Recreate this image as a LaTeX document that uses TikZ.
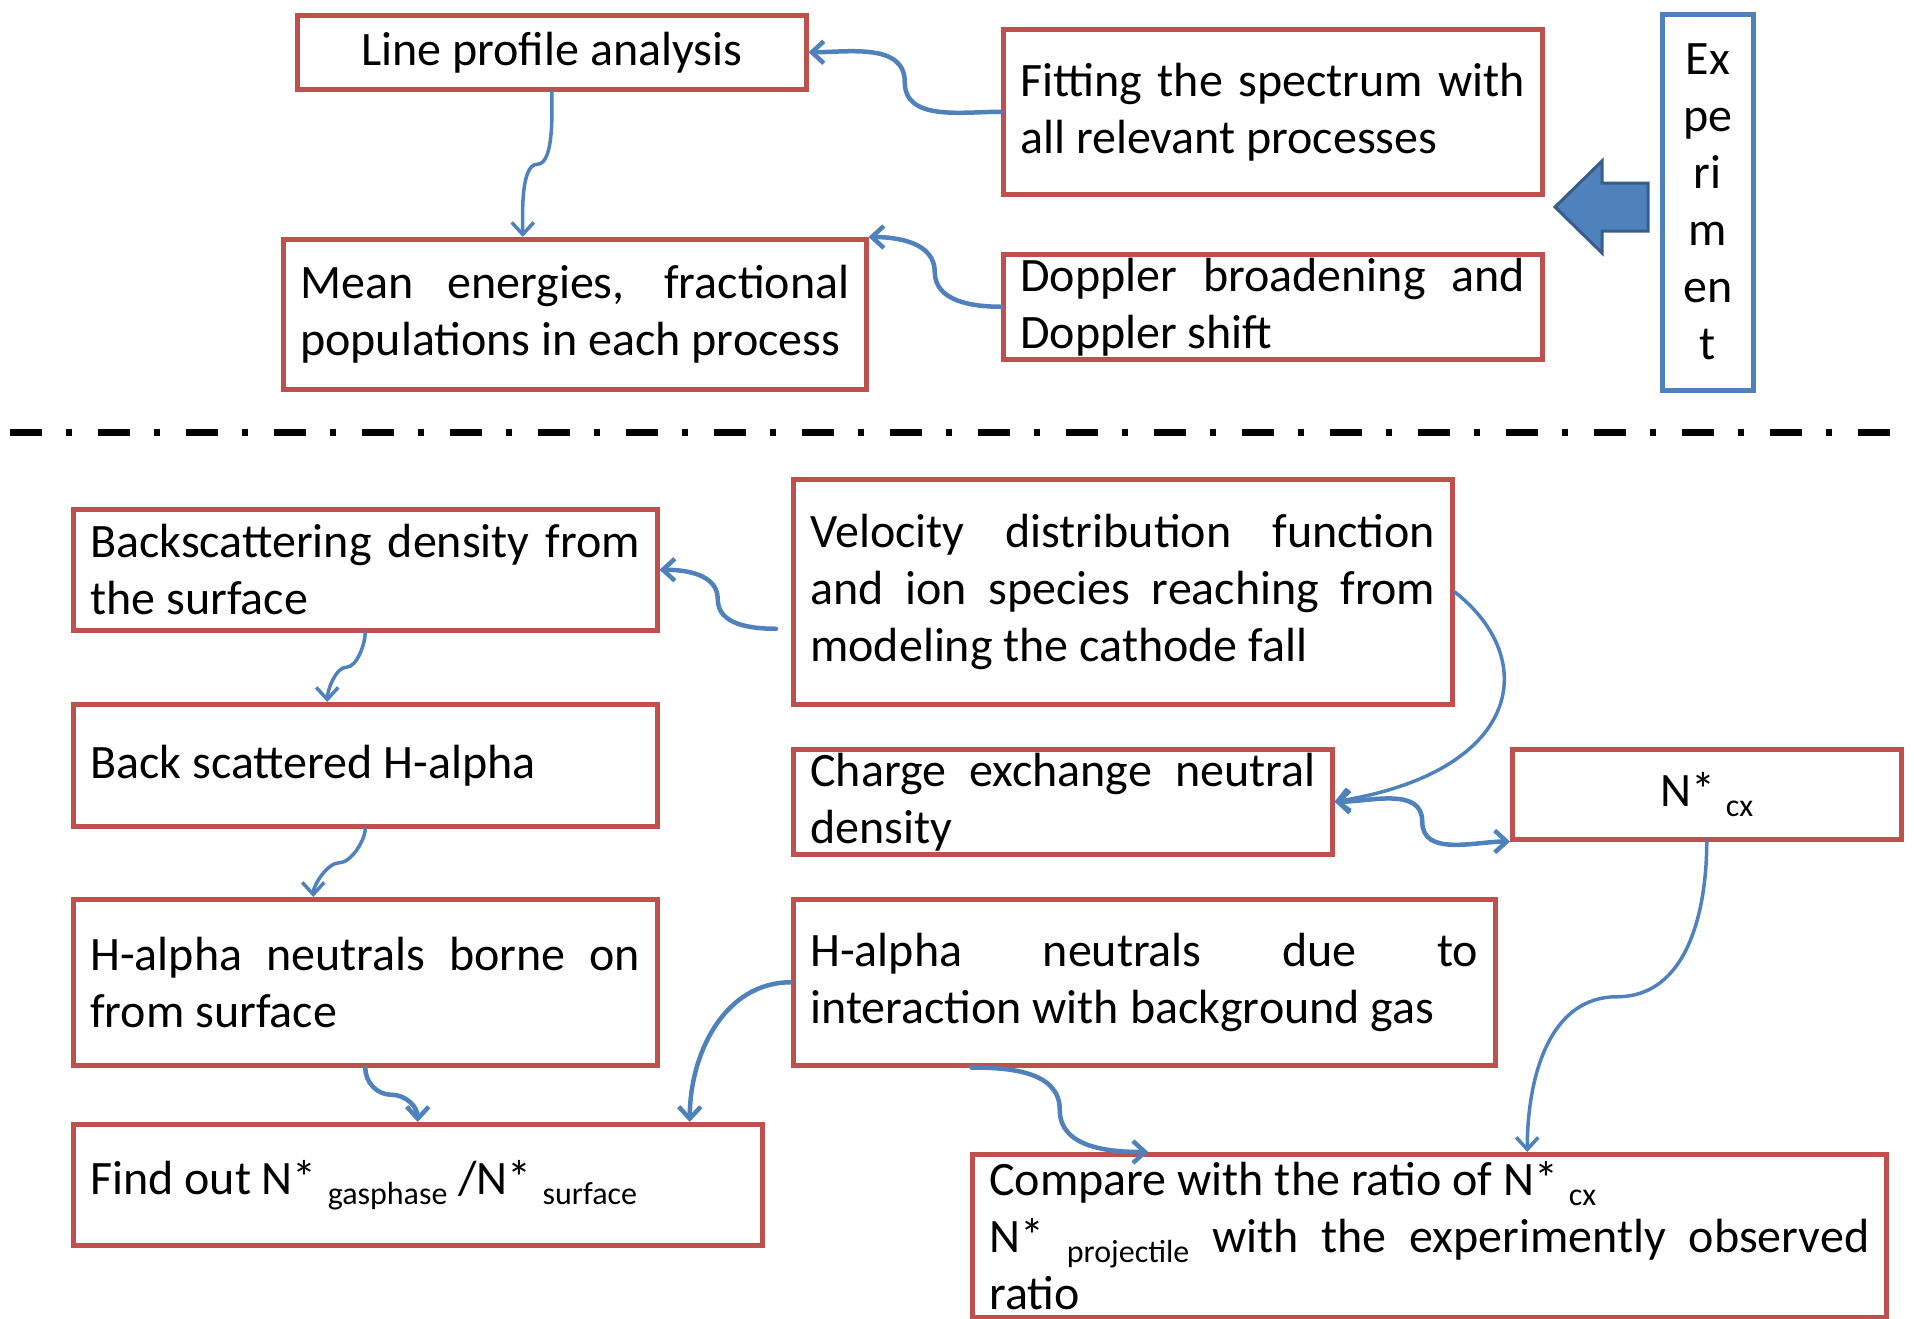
\documentclass[tikz,border=0pt]{standalone}
\usepackage{fontspec}
\setmainfont{Carlito}
\usetikzlibrary{arrows.meta,calc}
\definecolor{boxred}{HTML}{C0504D}
\definecolor{conblue}{HTML}{4F81BD}
\definecolor{darkblue}{HTML}{385D8A}
\newcommand\sbx[1]{\raisebox{-10pt}{\fontsize{32}{38}\selectfont #1}}
\tolerance=9999
\hyphenpenalty=10000
\begin{document}
\begin{tikzpicture}[x=1pt,y=1pt,
  rbox/.style={draw=boxred, line width=4.5pt, anchor=north west, inner xsep=17pt, inner ysep=0pt,
    font=\fontsize{48}{57}\selectfont, align=justify},
  bbox/.style={rbox, draw=conblue, align=center, inner xsep=2pt},
  tipb/.tip={Straight Barb[length=12pt,width=22pt]},
  conn/.style={draw=conblue, line width=3.5pt, line cap=round, -tipb},
  thick conn/.style={conn, line width=4.5pt}]
\useasboundingbox (0,0) rectangle (1914,-1318);

% ---- upper part
\node[rbox, align=center, minimum width=509pt, minimum height=74pt] (lpa) at (295,-13) {Line profile analysis};
\node[rbox, minimum width=583pt, minimum height=150pt, text width=549pt] (mean) at (281,-237)
  {Mean energies, fractional\linebreak populations in each process};
\node[rbox, minimum width=539pt, minimum height=165pt, text width=505pt] (fit) at (1001,-27)
  {Fitting the spectrum with\linebreak all relevant processes};
\node[rbox, minimum width=539pt, minimum height=105pt, text width=505pt] (dop) at (1001,-252)
  {Doppler broadening and\linebreak Doppler shift};
\node[bbox, minimum width=91pt, minimum height=376pt] (exp) at (1660,-12)
  {Ex\\pe\\ri\\m\\en\\t};
\draw[fill=conblue, draw=darkblue, line width=3pt, line join=miter]
  (1555,-207) -- (1602,-161) -- (1602,-183) -- (1648,-183) -- (1648,-231) -- (1602,-231) -- (1602,-253) -- cycle;

% ---- separator
\draw[line width=7pt, dash pattern=on 32pt off 24pt on 6pt off 26pt] (10,-432) -- (1892,-432);

% ---- lower part
\node[rbox, minimum width=584pt, minimum height=121pt, text width=550pt] (bsd) at (71,-507)
  {Backscattering density from\linebreak the surface};
\node[rbox, minimum width=584pt, minimum height=122pt, text width=550pt] (bsh) at (71,-702)
  {Back scattered H-alpha};
\node[rbox, minimum width=584pt, minimum height=166pt, text width=550pt] (hab) at (71,-897)
  {H-alpha neutrals borne on\linebreak from surface};
\node[rbox, minimum width=689pt, minimum height=121pt, text width=655pt] (find) at (71,-1122)
  {Find out N* \sbx{gasphase} /N* \sbx{surface}};
\node[rbox, minimum width=659pt, minimum height=225pt, text width=625pt] (vel) at (791,-477)
  {Velocity distribution function\linebreak and ion species reaching from\linebreak modeling the cathode fall};
\node[rbox, minimum width=539pt, minimum height=105pt, text width=505pt] (ce) at (791,-747)
  {Charge exchange neutral\linebreak density};
\node[rbox, align=center, minimum width=389pt, minimum height=90pt] (ncx) at (1510,-747)
  {N* \sbx{cx}};
\node[rbox, minimum width=702pt, minimum height=166pt, text width=668pt] (had) at (791,-897)
  {H-alpha neutrals due to\linebreak interaction with background gas};
\node[rbox, minimum width=914pt, minimum height=163pt, text width=880pt] (cmp) at (970,-1152)
  {Compare with the ratio of N* \sbx{cx}\\N* \sbx{projectile}\ with the experimently observed\linebreak ratio};

% ---- helper points on connectors
\coordinate (c1) at ([shift={(-15pt,-37pt)}]vel.west);
\coordinate (c2) at ([xshift=-173pt]had.south);

% ---- connectors (office-style curved elbows)
\draw[thick conn] (fit.west) to[out=180,in=-90] ($(fit.west)!0.5!(lpa.east)$) to[out=90,in=0] (lpa.east);
\draw[thick conn] (dop.west) to[out=180,in=-90] ($(dop.west)!0.5!(mean.north east)$) to[out=90,in=0] (mean.north east);
\draw[conn] (lpa.south) to[out=-90,in=0,looseness=0.6] ($(lpa.south)!0.5!([xshift=-52pt]mean.north)$) to[out=180,in=90,looseness=0.6] ([xshift=-52pt]mean.north);
\draw[thick conn] (c1) to[out=180,in=-90] ($(c1)!0.5!(bsd.east)$) to[out=90,in=0] (bsd.east);
\draw[conn] (bsd.south) to[out=-90,in=0,looseness=0.7] ($(bsd.south)!0.5!([xshift=-38pt]bsh.north)$) to[out=180,in=90,looseness=0.7] ([xshift=-38pt]bsh.north);
\draw[conn] (bsh.south) to[out=-90,in=0,looseness=0.7] ($(bsh.south)!0.5!([xshift=-52pt]hab.north)$) to[out=180,in=90,looseness=0.7] ([xshift=-52pt]hab.north);
\draw[thick conn] (hab.south) to[out=-90,in=180] ($(hab.south)!0.5!(find.north)$) to[out=0,in=90] (find.north);
\draw[thick conn] (had.west) to[out=180,in=90] ([xshift=272pt]find.north);
\draw[thick conn] (c2) to[out=0,in=90] ($(c2)!0.5!([xshift=-281pt]cmp.north)$) to[out=-90,in=180] ([xshift=-281pt]cmp.north);
\draw[conn] (vel.east) .. controls +(87pt,-68pt) and +(187pt,30pt) .. (ce.east);
\draw[thick conn, tipb-tipb] (ce.east) to[out=0,in=90] ($(ce.east)!0.5!(ncx.south west)$) to[out=-90,in=180] (ncx.south west);
\draw[conn] (ncx.south) to[out=-90,in=0] ($(ncx.south)!0.5!([xshift=98pt]cmp.north)$) to[out=180,in=90] ([xshift=98pt]cmp.north);
\end{tikzpicture}
\end{document}
